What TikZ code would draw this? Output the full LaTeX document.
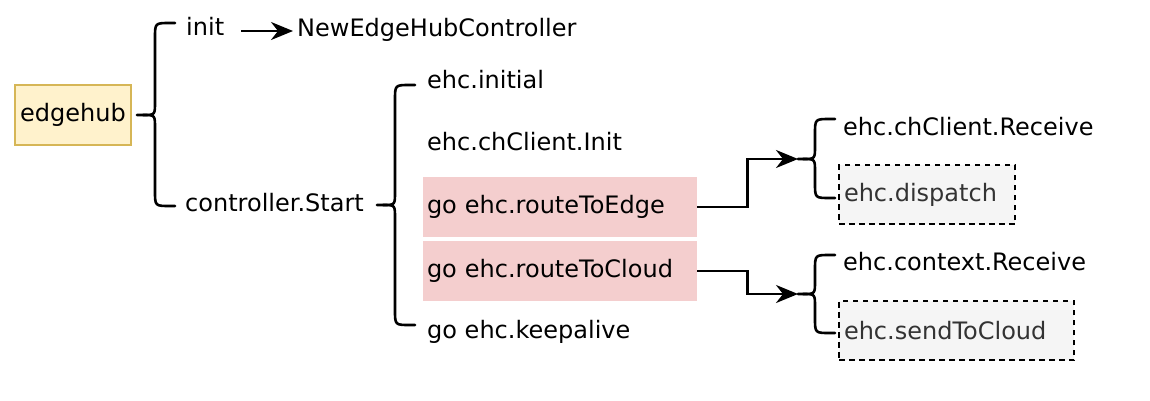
\documentclass[tikz,border=0pt]{standalone}
\usepackage{fontspec}
\setmainfont{DejaVu Sans}
\usetikzlibrary{arrows.meta,calc}
\definecolor{yfill}{HTML}{FFF2CC}
\definecolor{ydraw}{HTML}{D6B656}
\definecolor{rfill}{HTML}{F4CECE}
\definecolor{gfill}{HTML}{F5F5F5}
\definecolor{gtext}{HTML}{333333}
\tikzset{
  every node/.style={font=\fontsize{24}{28}\selectfont, inner sep=0pt},
  lbl/.style={anchor=base west},
  ybox/.style={draw=ydraw, fill=yfill, line width=2.2pt, minimum width=116, minimum height=60},
  rbox/.style={fill=rfill, minimum width=274, minimum height=60, text width=266, inner xsep=4, align=left},
  dbox/.style={draw=black, fill=gfill, text=gtext, dash pattern=on 5.5pt off 4.5pt, line width=2.2pt, minimum height=59, inner xsep=5, align=left},
  brace/.style={line width=2.6pt, line cap=round, line join=round},
  conn/.style={line width=2.6pt, arrows={-Stealth[length=22pt,width=18pt,inset=7pt]}},
}
\newcommand{\mybrace}[6]{% tip x, tip y, vertical x, top y, bottom y, arm end x
  \draw[brace] (#6,#4) -- (#3+15,#4) .. controls (#3,#4) .. (#3,#4+15) -- (#3,#2-13) .. controls (#3,#2) .. (#3-12,#2) -- (#1,#2);
  \draw[brace] (#6,#5) -- (#3+15,#5) .. controls (#3,#5) .. (#3,#5-15) -- (#3,#2+13) .. controls (#3,#2) .. (#3-12,#2);
}
\begin{document}
\begin{tikzpicture}[x=1pt,y=-1pt]
\useasboundingbox (0,0) rectangle (1150,400);

% nodes
\node[ybox] (edgehub) at (73,115) {edgehub};
\node[lbl] (init) at (186,35) {init};
\node[lbl] (nehc) at (297,36) {NewEdgeHubController};
\node[lbl] (start) at (185,211) {controller.Start};
\node[lbl] (initial) at (427,88) {ehc.initial};
\node[lbl] (chinit) at (427,150) {ehc.chClient.Init};
\node[rbox] (rte) at (560,207) {go ehc.routeToEdge};
\node[rbox] (rtc) at (560,271) {go ehc.routeToCloud};
\node[lbl] (keep) at (427,338) {go ehc.keepalive};
\node[lbl] (chrecv) at (843,135) {ehc.chClient.Receive};
\node[dbox, minimum width=176, text width=166] (disp) at (927,194.5) {ehc.dispatch};
\node[lbl] (ctxrecv) at (843,270) {ehc.context.Receive};
\node[dbox, minimum width=235, text width=225] (send) at (956.5,330.5) {ehc.sendToCloud};

% braces
\coordinate (b1tip) at (137,115);
\coordinate (b2tip) at (377,205);
\coordinate (b3tip) at (798,159);
\coordinate (b4tip) at (798,294);
\mybrace{137}{115}{155}{23}{206}{175}
\mybrace{377}{205}{395}{85}{325}{415}
\mybrace{798}{159}{815}{119}{198}{835}
\mybrace{798}{294}{815}{255}{333}{835}

% connectors
\draw[conn] ([shift={(17,-4)}]init.base east) -- ([shift={(-4,-5)}]nehc.base west);
\draw[conn] (rte.east) -- ++(50,0) |- (b3tip);
\draw[conn] (rtc.east) -- ++(50,0) |- (b4tip);
\end{tikzpicture}
\end{document}
